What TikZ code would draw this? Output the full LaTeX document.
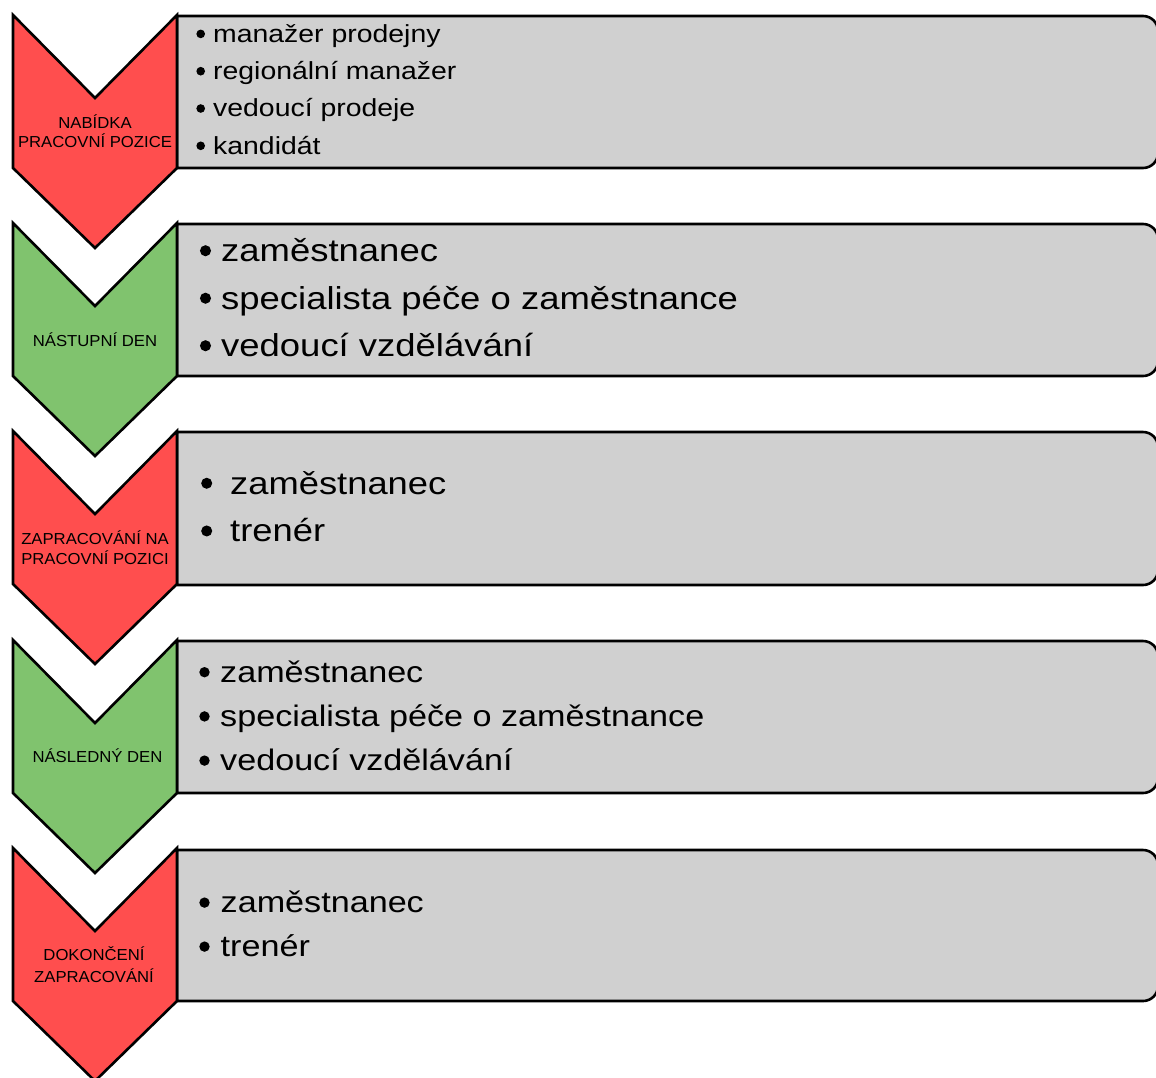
\documentclass[tikz,border=0pt]{standalone}
\usepackage{fontspec}
\setmainfont{Liberation Sans}[FakeStretch=1.15]
\newfontfamily\stagefont{Liberation Sans}[FakeStretch=1.05]

\definecolor{stagered}{RGB}{255,78,78}
\definecolor{stagegreen}{RGB}{128,195,110}
\definecolor{cardgray}{RGB}{208,208,208}

\tikzset{
  stage/.style={draw=black, line width=2.6pt, line join=miter},
  card/.style={draw=black, line width=2.6pt, fill=cardgray, line join=round},
  lbl/.style={anchor=base, inner sep=0pt, font=\stagefont\fontsize{15.9}{19}\selectfont},
  item/.style={anchor=base west, inner sep=0pt},
  dot/.style={circle, fill=black, inner sep=0pt},
}

% chevron whose top corners sit at height #1
\newcommand\stagechevron[2]{%
  \draw[stage, fill=#2] (13,#1) -- (95,#1+83) -- (177,#1) -- (177,#1+153)
    -- (95,#1+233) -- (13,#1+153) -- cycle;}
% card from #1 (top) to #2 (bottom), rounded on the right only
\newcommand\stagecard[2]{%
  \draw[card] (177,#1) -- (1143,#1) arc[start angle=-90, end angle=0, radius=15]
    -- (1158,#2-15) arc[start angle=0, end angle=90, radius=15] -- (177,#2) -- cycle;}
% font size used by the entries of the current card
\newcommand\cardsize{30}
% one bullet line: name, bullet x, text x, baseline, text
\newcommand\entry[5]{%
  \node[dot, minimum size=0.35*\cardsize] (#1d) at (#2,#4-0.34*\cardsize) {};
  \node[item, font=\fontsize{\cardsize}{\cardsize}\selectfont] (#1) at (#3,#4) {#5};}

\begin{document}
\begin{tikzpicture}[x=1pt, y=-1pt]
\useasboundingbox (0,0) rectangle (1156,1077);
\fill[white] (0,0) rectangle (1156,1077);

% cards
\stagecard{16}{168}
\stagecard{224}{376}
\stagecard{432}{585}
\stagecard{641}{793}
\stagecard{850}{1001}

% chevrons
\stagechevron{15}{stagered}
\stagechevron{223}{stagegreen}
\stagechevron{431}{stagered}
\stagechevron{640}{stagegreen}
\stagechevron{848}{stagered}

% stage labels
\node[lbl] (s1a) at (95,128.3) {NABÍDKA};
\node[lbl] (s1b) at (95,147.7) {PRACOVNÍ POZICE};
\node[lbl] (s2) at (95,346) {NÁSTUPNÍ DEN};
\node[lbl] (s3a) at (95,544.3) {ZAPRACOVÁNÍ NA};
\node[lbl] (s3b) at (95,564.3) {PRACOVNÍ POZICI};
\node[lbl] (s4) at (97.5,762.7) {NÁSLEDNÝ DEN};
\node[lbl] (s5a) at (94,960) {DOKONČENÍ};
\node[lbl] (s5b) at (94,982) {ZAPRACOVÁNÍ};

% card texts
\renewcommand\cardsize{24.7}
\entry{c1a}{200.7}{213}{42.3}{manažer prodejny}
\entry{c1b}{200.7}{213}{79.6}{regionální manažer}
\entry{c1c}{200.7}{213}{116.9}{vedoucí prodeje}
\entry{c1d}{200.7}{213}{154.2}{kandidát}

\renewcommand\cardsize{31.7}
\entry{c2a}{205.5}{221}{261.5}{zaměstnanec}
\entry{c2b}{205.5}{221}{309}{specialista péče o zaměstnance}
\entry{c2c}{205.5}{221}{356.5}{vedoucí vzdělávání}

\renewcommand\cardsize{31.6}
\entry{c3a}{206.7}{230}{494}{zaměstnanec}
\entry{c3b}{206.7}{230}{541.7}{trenér}

\renewcommand\cardsize{29.7}
\entry{c4a}{204.5}{220}{682.3}{zaměstnanec}
\entry{c4b}{204.5}{220}{726.5}{specialista péče o zaměstnance}
\entry{c4c}{204.5}{220}{770.7}{vedoucí vzdělávání}

\entry{c5a}{204.5}{220.5}{912.7}{zaměstnanec}
\entry{c5b}{204.5}{220.5}{956.7}{trenér}
\end{tikzpicture}
\end{document}
